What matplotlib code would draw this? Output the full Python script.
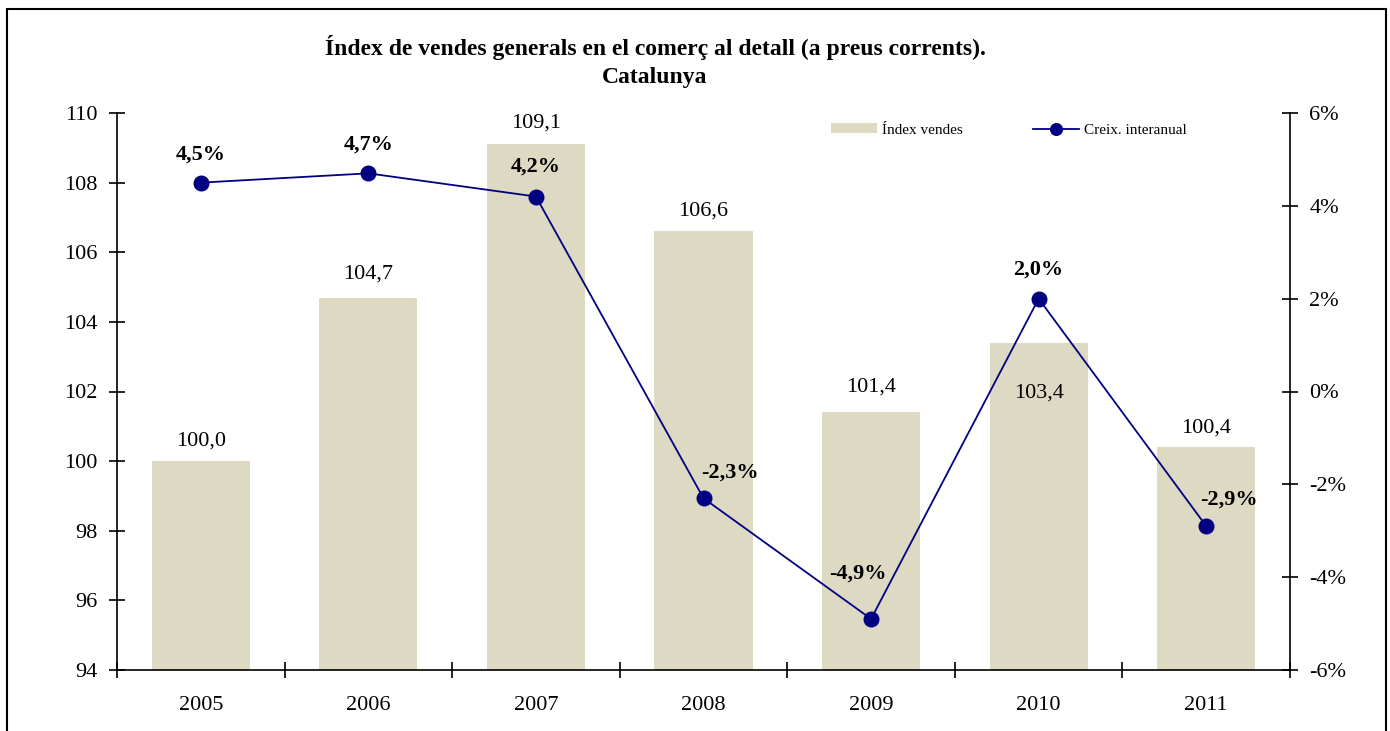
import matplotlib
matplotlib.use("Agg")
import matplotlib.pyplot as plt
from matplotlib.patches import Rectangle
from matplotlib.ticker import FuncFormatter

plt.rcParams['font.family'] = ['Liberation Serif', 'DejaVu Serif']

years = ['2005', '2006', '2007', '2008', '2009', '2010', '2011']
index_vendes = [100.0, 104.7, 109.1, 106.6, 101.4, 103.4, 100.4]
creix = [4.5, 4.7, 4.2, -2.3, -4.9, 2.0, -2.9]

bar_label_offsets = [(0, 20), (0, 23), (0, 21), (0, 20), (0, 25), (0, -50), (0, 19)]
line_label_offsets = [(0, 28), (0, 29), (0, 30), (26, 26), (-13, 45), (0, 29), (23, 27)]

fig = plt.figure(figsize=(13.9, 7.31), dpi=100)
ax = fig.add_axes([117/1390, 1-670/731, (1290-117)/1390, (670-113)/731])
ax2 = ax.twinx()

x = list(range(len(years)))
bar_color = '#DDD9C3'
line_color = '#000080'

ax.bar(x, [v - 94 for v in index_vendes], bottom=94, width=0.585,
       color=bar_color, label='Índex vendes', zorder=2)
ax.set_ylim(94, 110)
ax.set_xlim(-0.5, len(years) - 0.5)
ax.set_yticks(range(94, 111, 2))

ax2.plot(x, creix, color=line_color, marker='o', markersize=10.5, linewidth=1.3,
         label='Creix. interanual', zorder=3)
ax2.set_ylim(-6, 6)
ax2.set_yticks(range(-6, 7, 2))
ax2.yaxis.set_major_formatter(FuncFormatter(lambda v, p: f'{int(v)}%'))

# x ticks
ax.set_xticks([i - 0.5 for i in range(len(years) + 1)])
ax.set_xticklabels([])
ax.set_xticks(x, minor=True)
ax.set_xticklabels(years, minor=True)
ax.tick_params(axis='x', which='major', direction='inout', length=12, width=1.2)
ax.tick_params(axis='x', which='minor', length=0, pad=19, labelsize=16)
ax.tick_params(axis='y', direction='inout', length=12, width=1.2, pad=8, labelsize=16)
ax2.tick_params(axis='y', direction='inout', length=12, width=1.2, pad=8, labelsize=16)

for a in (ax, ax2):
    a.spines['top'].set_visible(False)
    for s in ('left', 'right', 'bottom'):
        a.spines[s].set_linewidth(1.2)
ax2.spines['left'].set_visible(False)
ax2.spines['bottom'].set_visible(False)
ax.spines['right'].set_visible(False)

for i, v in enumerate(index_vendes):
    dx, dy = bar_label_offsets[i]
    ax.annotate(f'{v:.1f}'.replace('.', ','), (i, v), xytext=(dx, dy),
                textcoords='offset pixels', ha='center', va='center', fontsize=16)

for i, v in enumerate(creix):
    dx, dy = line_label_offsets[i]
    ax2.annotate(f'{v:.1f}%'.replace('.', ','), (i, v), xytext=(dx, dy),
                 textcoords='offset pixels', ha='center', va='center',
                 fontsize=16, fontweight='bold')

fig.text(655/1390, 1-48/731, "Índex de vendes generals en el comerç al detall (a preus corrents).",
         ha='center', va='center', fontsize=17, fontweight='bold')
fig.text(655/1390, 1-78/731, "Catalunya", ha='center', va='center', fontsize=17, fontweight='bold')

h1, l1 = ax.get_legend_handles_labels()
h2, l2 = ax2.get_legend_handles_labels()
fig.legend(h1 + h2, l1 + l2, ncol=2, frameon=False, fontsize=11,
           loc='center left', bbox_to_anchor=(817/1390, 1-130/731),
           handlelength=3.0, handleheight=0.55, columnspacing=4.6, handletextpad=0.35,
           markerscale=0.8)

fig.patches.append(Rectangle((7/1390, -0.05), (1386-7)/1390, 1.05 - 9/731,
                             transform=fig.transFigure, fill=False,
                             edgecolor='black', linewidth=1.5))

fig.savefig('out.png', dpi=100)
